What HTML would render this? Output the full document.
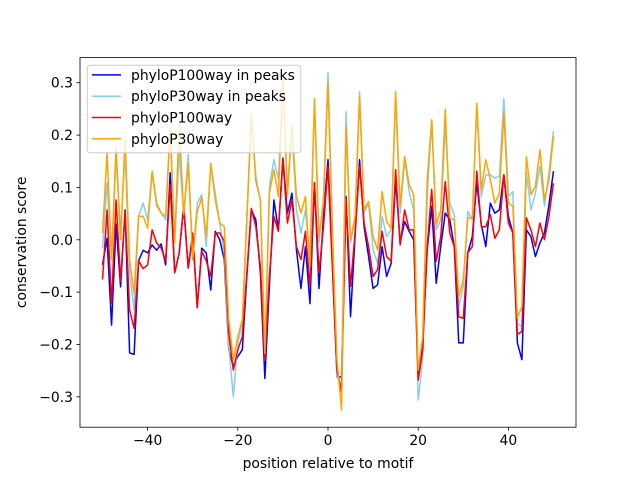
<!DOCTYPE html>
<html><head><meta charset="utf-8"><style>
body{margin:0;background:#fff;}
svg text{font-family:"DejaVu Sans","Liberation Sans",sans-serif;}
</style></head><body>
<svg id="chart" width="640" height="480" xmlns="http://www.w3.org/2000/svg">
<rect width="640" height="480" fill="#fff"/>
<g id="plot"></g>
<g id="axes"></g>
</svg>
<script>
const positions = [];
for (let k = -50; k <= 50; k++) positions.push(k);
const p100Peaks = [-0.048,0.003,-0.163,0.03,-0.09,0.057,-0.216,-0.219,-0.04,-0.02,-0.025,-0.01,-0.02,-0.008,-0.048,0.128,-0.063,-0.025,0.064,-0.054,0.009,-0.128,-0.016,-0.025,-0.096,0.016,
0.0,-0.038,-0.21,-0.242,-0.223,-0.21,-0.07,0.057,0.038,-0.063,-0.265,-0.089,0.076,0.019,0.156,0.051,0.089,-0.019,-0.093,-0.013,-0.122,0.109,-0.093,0.045,0.153,
-0.05,-0.262,-0.262,0.083,-0.147,0.006,0.153,0.025,-0.032,-0.093,-0.086,-0.013,-0.07,-0.045,0.115,-0.006,0.035,0.016,0.0,-0.262,-0.197,-0.019,0.064,-0.083,-0.013,0.051,0.038,-0.013,-0.197,
-0.197,-0.025,0.006,0.109,0.029,-0.013,0.07,0.051,0.057,0.124,0.045,0.013,-0.197,-0.229,0.019,0.006,-0.032,-0.006,0.013,0.067,0.131];
const p30Peaks = [-0.016,0.109,-0.032,0.159,0.013,0.166,-0.063,-0.134,0.045,0.07,0.038,0.128,0.064,0.051,0.038,0.217,-0.003,0.166,0.045,0.163,-0.038,0.07,0.086,-0.013,0.146,0.089,
0.032,-0.025,-0.204,-0.3,-0.197,-0.16,0.045,0.242,0.121,0.076,-0.23,0.102,0.153,0.115,0.306,0.096,0.217,0.057,0.013,0.057,-0.032,0.268,-0.006,0.083,0.319,
0.02,-0.26,-0.28,0.245,-0.006,0.038,0.283,0.051,0.07,-0.019,-0.045,0.045,0.006,0.019,0.274,0.051,0.153,0.092,0.057,-0.306,-0.23,0.083,0.229,0.019,0.038,0.217,0.07,0.048,-0.128,
-0.09,0.054,0.038,0.255,0.083,0.124,0.124,0.118,0.121,0.27,0.083,0.092,-0.16,-0.166,0.128,0.057,0.089,0.14,0.064,0.128,0.208];
const p100All = [-0.076,0.057,-0.122,0.076,-0.079,0.054,-0.134,-0.169,-0.04,-0.055,-0.048,0.019,-0.006,-0.016,-0.04,0.105,-0.063,-0.025,0.064,-0.054,0.013,-0.13,-0.022,-0.04,-0.07,0.013,
0.013,-0.003,-0.178,-0.249,-0.21,-0.185,-0.063,0.06,0.025,-0.051,-0.23,-0.07,0.045,0.016,0.153,0.032,0.076,-0.013,-0.038,0.016,-0.089,0.109,-0.063,0.025,0.14,
-0.06,-0.249,-0.29,0.076,-0.089,0.013,0.14,0.032,-0.013,-0.07,-0.057,0.016,-0.032,-0.041,0.134,-0.01,0.057,0.019,0.019,-0.268,-0.21,-0.013,0.096,-0.041,0.006,0.111,0.013,-0.013,-0.147,
-0.15,-0.025,-0.013,0.131,0.025,0.025,0.048,0.003,0.019,0.124,0.032,0.013,-0.181,-0.175,0.042,0.019,-0.013,0.032,0.0,0.045,0.108];
const p30All = [0.013,0.166,-0.038,0.178,0.0,0.191,-0.038,-0.102,0.045,0.045,0.022,0.131,0.07,0.051,0.045,0.217,-0.006,0.223,0.048,0.146,-0.038,0.054,0.08,0.006,0.146,0.076,
0.032,0.025,-0.153,-0.23,-0.185,-0.153,0.038,0.236,0.112,0.076,-0.217,0.089,0.134,0.083,0.306,0.083,0.217,0.083,0.051,0.083,-0.051,0.27,0.006,0.07,0.3,
0.0,-0.23,-0.325,0.217,0.0,0.045,0.274,0.057,0.073,0.006,-0.019,0.092,0.035,0.022,0.283,0.064,0.159,0.105,0.086,-0.249,-0.185,0.115,0.229,0.029,0.057,0.249,0.042,0.038,-0.109,
-0.077,0.042,0.042,0.261,0.096,0.153,0.115,0.07,0.089,0.242,0.07,0.064,-0.149,-0.128,0.159,0.086,0.102,0.172,0.076,0.115,0.198];
const seriesNames = ["phyloP100way in peaks","phyloP30way in peaks","phyloP100way","phyloP30way"];
const seriesColors = ["#0000ff","#87ceeb","#ff0000","#ffa500"];
const xTicks = [-40,-20,0,20,40];
const yTicks = [-0.3,-0.2,-0.1,0.0,0.1,0.2,0.3];

const L=80,R=576,T=57.6,B=427.2;
const xMin=-55,xMax=55,yMin=-0.358,yMax=0.348;
const sx=v=>L+(v-xMin)/(xMax-xMin)*(R-L);
const sy=v=>B-(v-yMin)/(yMax-yMin)*(B-T);
const NS="http://www.w3.org/2000/svg";
const plot=document.getElementById('plot'), axes=document.getElementById('axes');
function mk(tag,attrs,parent){const e=document.createElementNS(NS,tag);for(const k in attrs)e.setAttribute(k,attrs[k]);parent.appendChild(e);return e;}

const allSeries=[p100Peaks,p30Peaks,p100All,p30All];
const seriesKeys=["series-phylop100-peaks","series-phylop30-peaks","series-phylop100","series-phylop30"];
allSeries.forEach((s,i)=>{
  const d=s.map((v,j)=>(j?'L':'M')+sx(positions[j]).toFixed(2)+' '+sy(v).toFixed(2)).join(' ');
  const p=mk('path',{d:d,fill:'none',stroke:seriesColors[i],'stroke-width':1.5,'stroke-linejoin':'round'},plot);
  
  
});

const frame=mk('rect',{x:L,y:T,width:R-L,height:B-T,fill:'none',stroke:'#000','stroke-width':0.8},axes);



xTicks.forEach(t=>{
  const x=sx(t);
  const tk=mk('line',{x1:x,x2:x,y1:B,y2:B+3.5,stroke:'#000','stroke-width':0.8},axes);
  
  
  const lb=mk('text',{x:x,y:B+18,'font-size':13.9,'text-anchor':'middle'},axes);
  lb.textContent=(t<0?'\u2212'+(-t):t);
  
  
});
yTicks.forEach(t=>{
  const y=sy(t);
  const tk=mk('line',{x1:L-3.5,x2:L,y1:y,y2:y,stroke:'#000','stroke-width':0.8},axes);
  
  
  const lb=mk('text',{x:L-7,y:y+5,'font-size':13.9,'text-anchor':'end'},axes);
  lb.textContent=(t<0?'\u2212':'')+Math.abs(t).toFixed(1);
  
  
});
const xt=mk('text',{x:(L+R)/2,y:468,'font-size':13.9,'text-anchor':'middle'},axes);
xt.textContent='position relative to motif';


const yt=mk('text',{x:0,y:0,'font-size':13.9,'text-anchor':'middle',transform:'translate(26,'+((T+B)/2)+') rotate(-90)'},axes);
yt.textContent='conservation score';



const lg=mk('g',{},axes);


mk('rect',{x:87.3,y:65.3,width:213.5,height:87.5,rx:3,fill:'#fff','fill-opacity':0.8,stroke:'#ccc','stroke-width':1},lg);
seriesNames.forEach((n,i)=>{
  const y=74.9+i*21.3;
  const g=mk('g',{},lg);
  
  
  mk('line',{x1:92,x2:121,y1:y,y2:y,stroke:seriesColors[i],'stroke-width':1.5},g);
  const t=mk('text',{x:131,y:y+5,'font-size':13.9},g);
  t.textContent=n;
});
</script>
</body></html>
